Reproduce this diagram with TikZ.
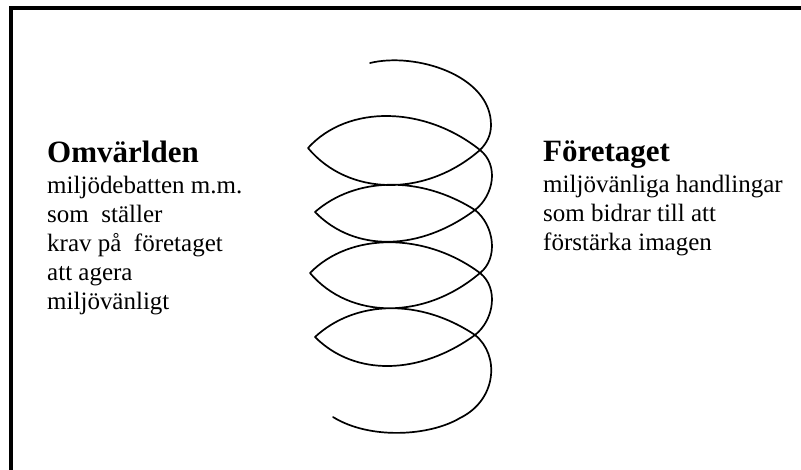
\documentclass[tikz,border=0pt]{standalone}
\usepackage{fontspec}
\setmainfont{Liberation Serif}
\begin{document}
\begin{tikzpicture}[x=1pt,y=-1pt,
  body/.style={font=\fontsize{25pt}{29pt}\selectfont, inner sep=0pt, anchor=base west},
  title/.style={font=\fontsize{31pt}{36pt}\selectfont\bfseries, inner sep=0pt, anchor=base west},
  frame/.style={line width=4pt, line join=miter},
  coil/.style={line width=1.7pt, line join=round, line cap=round}]
\useasboundingbox (0,0) rectangle (801,469);
% frame
\draw[frame] (11,475) -- (11,8) -- (806,8);
% crossing points and left tips of the coil
\coordinate (S) at (370,63);
\coordinate (C1) at (480,150); \coordinate (L1) at (308,148);
\coordinate (C2) at (475,210); \coordinate (L2) at (315,212);
\coordinate (C3) at (480,273); \coordinate (L3) at (310,273);
\coordinate (C4) at (475,335); \coordinate (L4) at (315,337);
\coordinate (E) at (333,417);
% coil
\draw[coil] (S) .. controls (415,52) and (491,75) .. (491,125)
  .. controls (491,135) and (487,143) .. (C1)
  .. controls (425,198) and (348,196) .. (L1)
  .. controls (348,104) and (425,106) .. (C1)
  .. controls (499,165) and (494,195) .. (C2)
  .. controls (420,251) and (355,253) .. (L2)
  .. controls (355,177) and (420,175) .. (C2)
  .. controls (494,225) and (499,258) .. (C3)
  .. controls (425,320) and (350,320) .. (L3)
  .. controls (350,232) and (425,232) .. (C3)
  .. controls (499,288) and (494,320) .. (C4)
  .. controls (420,375) and (355,377) .. (L4)
  .. controls (355,300) and (420,298) .. (C4)
  .. controls (500,355) and (497,400) .. (460,418)
  .. controls (430,436) and (370,440) .. (E);
% left text
\node[title] (ltitle) at (47,162) {Omvärlden};
\node[body] (l1) at (47,193) {miljödebatten m.m.};
\node[body] (l2) at (47,222) {som\ \ ställer};
\node[body] (l3) at (47,251) {krav på\ \ företaget};
\node[body] (l4) at (47,280) {att agera};
\node[body] (l5) at (47,309) {miljövänligt};
% right text
\node[title] (rtitle) at (543,161) {Företaget};
\node[body] (r1) at (543,192) {miljövänliga handlingar};
\node[body] (r2) at (543,221) {som bidrar till att};
\node[body] (r3) at (543,250) {förstärka imagen};
\end{tikzpicture}
\end{document}
